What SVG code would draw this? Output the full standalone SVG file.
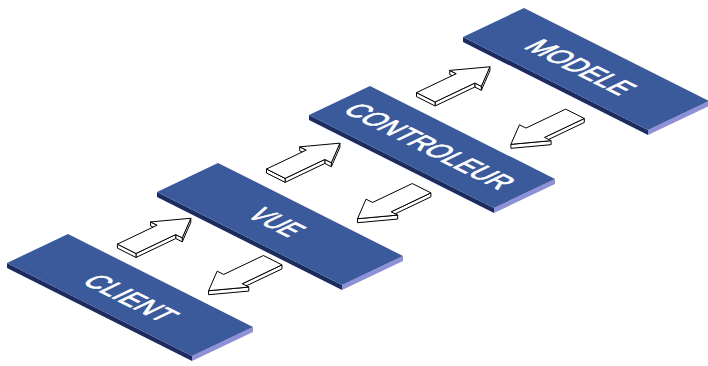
<svg xmlns="http://www.w3.org/2000/svg" xmlns:xlink="http://www.w3.org/1999/xlink" width="708" height="366" viewBox="0 0 708 366">
<style>
.top{fill:#3b5a9c}
.front{fill:#1d2c5e}
.end{fill:#8e90d8}
.lbl{fill:#ffffff;stroke:#ffffff;stroke-width:0.9;font-family:"Liberation Sans",Arial,sans-serif;font-size:31px;text-anchor:middle}
.arr path{fill:#ffffff;stroke:#000000;stroke-width:1;stroke-linejoin:miter;vector-effect:non-scaling-stroke}
</style>
<defs>
<g id="slab">
<path class="front" d="M0,0 L185,93 L185,98 L0,5 Z"/>
<path class="end" d="M185,93 L246,64 L246,69 L185,98 Z"/>
<path class="top" d="M0,0 L61,-29 L246,64 L185,93 Z"/>
</g>
<g id="arrowUp" class="arr">
<path d="M44,-10.4 L44,-17.7 L39.47,-13.13 L39.47,-5.83 Z"/>
<path d="M71,0 L44,17.7 L39.47,22.27 L66.47,4.57 Z"/>
<path d="M44,17.7 L44,10.4 L39.47,14.97 L39.47,22.27 Z"/>
<path d="M44,10.4 L0,10.4 L-4.53,14.97 L39.47,14.97 Z"/>
<path d="M0,10.4 L0,-10.4 L-4.53,-5.83 L-4.53,14.97 Z"/>
<path d="M0,-10.4 L44,-10.4 L44,-17.7 L71,0 L44,17.7 L44,10.4 L0,10.4 Z"/>
</g>
<g id="arrowDown" class="arr">
<path d="M0,-10.4 L44,-10.4 L48.53,-14.97 L4.53,-14.97 Z"/>
<path d="M44,-17.7 L71,0 L75.53,-4.57 L48.53,-22.27 Z"/>
<path d="M0,-10.4 L44,-10.4 L44,-17.7 L71,0 L44,17.7 L44,10.4 L0,10.4 Z"/>
</g>
</defs>
<g id="connectors">
<use id="client-vue" xlink:href="#arrowUp" transform="matrix(0.903,-0.430,0.894,0.449,126.7,248.8)"/>
<use id="vue-controleur" xlink:href="#arrowUp" transform="matrix(0.903,-0.430,0.894,0.449,275.8,173.7)"/>
<use id="controleur-modele" xlink:href="#arrowUp" transform="matrix(0.903,-0.430,0.894,0.449,425.8,97.3)"/>
<use id="vue-client" xlink:href="#arrowDown" transform="matrix(-0.903,0.430,-0.894,-0.449,272.7,260.2)"/>
<use id="controleur-vue" xlink:href="#arrowDown" transform="matrix(-0.903,0.430,-0.894,-0.449,421.6,188.2)"/>
<use id="modele-controleur" xlink:href="#arrowDown" transform="matrix(-0.903,0.430,-0.894,-0.449,575,113.8)"/>
</g>
<g id="client">
<use xlink:href="#slab" transform="translate(7,263)"/>
<text class="lbl" transform="translate(131,298) matrix(0.894,0.449,-0.903,0.430,0,0)" x="0" y="11" textLength="90" lengthAdjust="spacingAndGlyphs">CLIENT</text>
</g>
<g id="vue">
<use xlink:href="#slab" transform="translate(157,192)"/>
<text class="lbl" transform="translate(277,222) matrix(0.894,0.449,-0.903,0.430,0,0)" x="0" y="11" textLength="48" lengthAdjust="spacingAndGlyphs">VUE</text>
</g>
<g id="controleur">
<use xlink:href="#slab" transform="translate(309,115)"/>
<text class="lbl" transform="translate(430,146) matrix(0.894,0.449,-0.903,0.430,0,0)" x="0" y="11" textLength="176" lengthAdjust="spacingAndGlyphs">CONTROLEUR</text>
</g>
<g id="modele">
<use xlink:href="#slab" transform="translate(463,37)"/>
<text class="lbl" transform="translate(581,67) matrix(0.894,0.449,-0.903,0.430,0,0)" x="0" y="11" textLength="108" lengthAdjust="spacingAndGlyphs">MODELE</text>
</g>
</svg>
